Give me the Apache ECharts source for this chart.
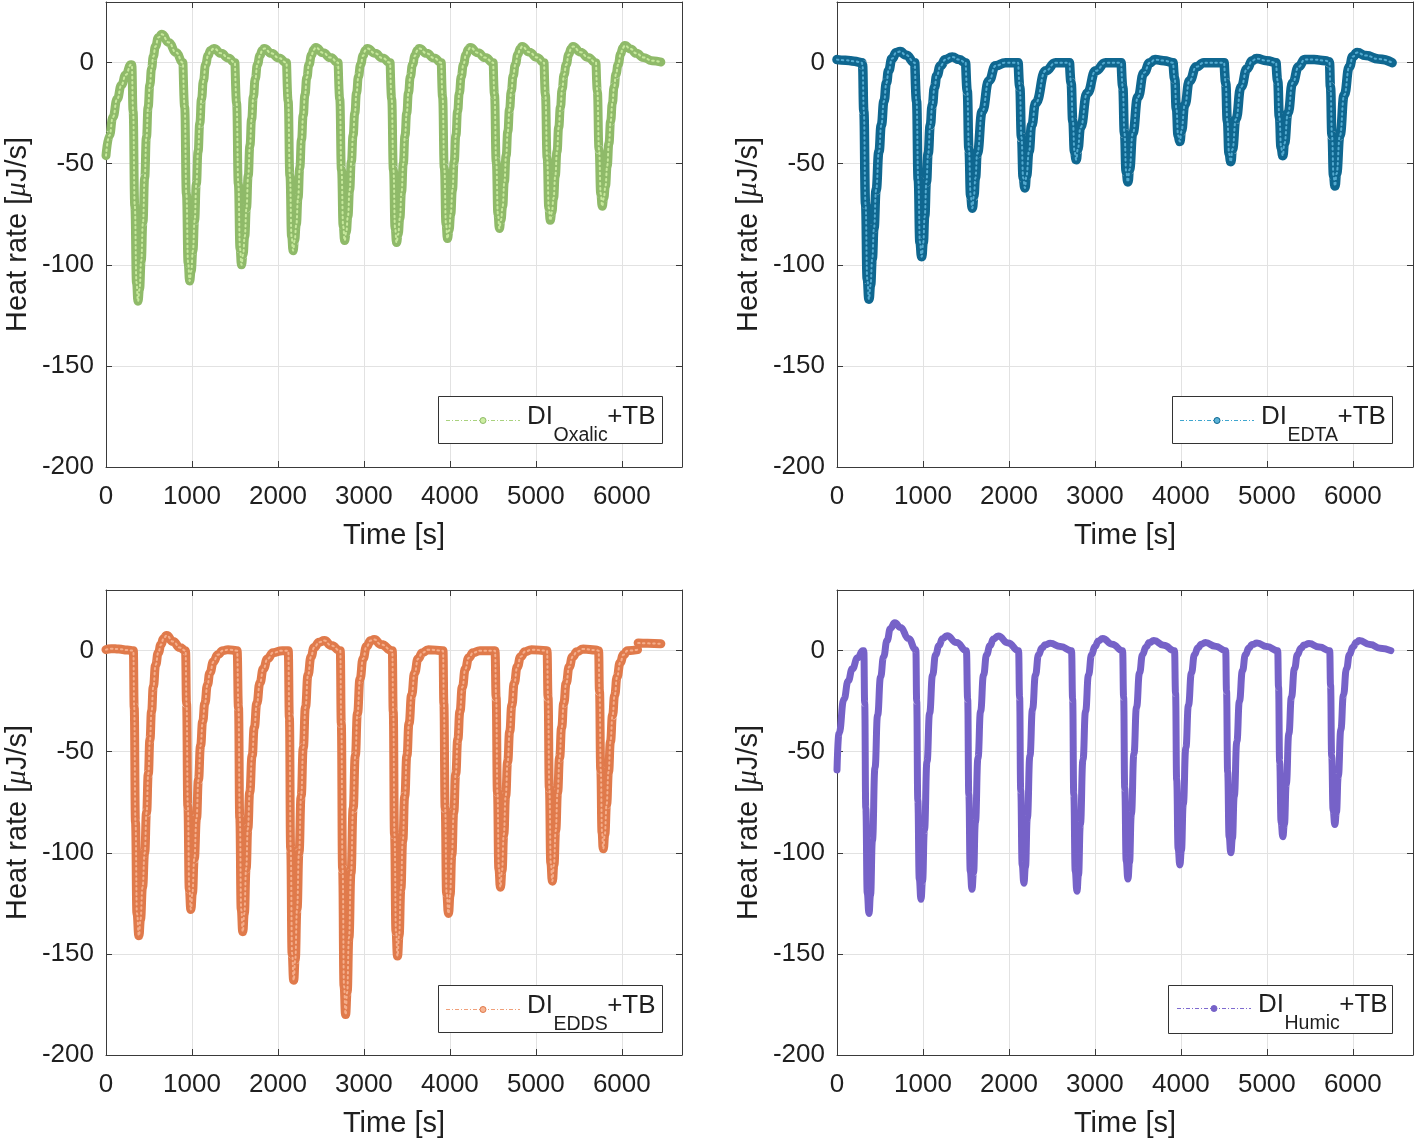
<!DOCTYPE html>
<html><head><meta charset="utf-8">
<script src="https://cdn.jsdelivr.net/npm/echarts@6/dist/echarts.min.js"></script>
<style>html,body{margin:0;padding:0;background:#fff}#c{width:1416px;height:1141px}</style>
</head><body><div id="c"></div>
<script>
const FONT = '"Liberation Sans", Arial, Helvetica, sans-serif';
const xRange = [0, 6700];
const yRange = [-200, 30];
const xTickLabels = [0, 1000, 2000, 3000, 4000, 5000, 6000];
const yTickLabels = [-200, -150, -100, -50, 0];
const seriesNames = ['DI_Oxalic+TB', 'DI_EDTA+TB', 'DI_EDDS+TB', 'DI_Humic+TB'];
const subscripts = ['Oxalic', 'EDTA', 'EDDS', 'Humic'];
const edgeColors = ['#8fba69', '#0f6790', '#e07a4b', '#7662c8'];
const faceColors = ['#cdeea2', '#5cb3d8', '#f7b492', '#8b78d6'];
const legendLineColors = ['#a9d27e', '#3fa6cf', '#f0a07a', '#7f6bd0'];

// [time s, heat rate uJ/s]
const oxalic = [
[0,-46],[40,-36],[80,-27],[130,-18],[180,-11],[230,-6],[290,-1],
[300,-1],[315,-24],[335,-71],[355,-109],[372,-118],[390,-112],[410,-98],[430,-79],[450,-57],[470,-37],[490,-22],[510,-11],[530,-3],[550,3],[575,8],[610,12.5],[650,14],[730,10],[815,5],[895,0],
[900,0],[915,-22],[935,-65],[955,-99],[973,-108],[991,-103],[1011,-93],[1031,-78],[1051,-60],[1071,-44],[1091,-30],[1111,-18],[1133,-9],[1158,-1],[1188,3.5],[1215,6],[1255,7],[1340,4.6],[1420,2.3],[1500,0],
[1504,0],[1519,-20],[1539,-60],[1559,-92],[1576,-100],[1594,-95],[1614,-86],[1634,-72],[1654,-56],[1674,-41],[1694,-28],[1714,-17],[1736,-8],[1761,-1],[1791,3.5],[1816,6],[1840,7],[1925,4.6],[2010,2.3],[2100,0],
[2104,0],[2119,-19],[2139,-56],[2159,-86],[2176,-93],[2194,-88],[2214,-80],[2234,-67],[2254,-52],[2274,-38],[2294,-26],[2314,-16],[2336,-7.4],[2361,-1],[2391,3.8],[2416,6.4],[2440,7.5],[2525,4.9],[2610,2.5],[2700,0],
[2704,0],[2719,-18],[2739,-53],[2759,-81],[2776,-88],[2794,-84],[2814,-76],[2834,-63],[2854,-49],[2874,-36],[2894,-25],[2914,-15],[2936,-7],[2961,-1],[2991,3.5],[3016,6],[3040,7],[3130,4.6],[3215,2.3],[3305,0],
[3308,0],[3323,-18],[3343,-53],[3363,-82],[3380,-89],[3398,-85],[3418,-77],[3438,-64],[3458,-50],[3478,-36],[3498,-25],[3518,-15],[3540,-7],[3565,-1],[3595,3.5],[3620,6],[3644,7],[3730,4.6],[3815,2.3],[3900,0],
[3903,0],[3915,-17],[3935,-52],[3955,-80],[3972,-87],[3990,-83],[4010,-75],[4030,-63],[4050,-49],[4070,-36],[4090,-24],[4110,-15],[4132,-7],[4157,-1],[4187,3.8],[4212,6.4],[4236,7.5],[4325,4.9],[4410,2.5],[4504,0],
[4507,0],[4519,-16],[4539,-49],[4559,-75],[4576,-82],[4594,-78],[4614,-71],[4634,-59],[4654,-46],[4674,-34],[4694,-23],[4714,-14],[4736,-6.6],[4761,-1],[4791,4],[4816,6.8],[4840,8],[4925,5.2],[5010,2.6],[5096,0],
[5099,0],[5111,-16],[5131,-47],[5151,-72],[5168,-78],[5186,-74],[5206,-67],[5226,-56],[5246,-44],[5266,-32],[5286,-22],[5306,-13],[5328,-6],[5353,-1],[5383,4],[5408,6.8],[5432,8],[5520,5.2],[5605,2.6],[5700,0],
[5703,0],[5715,-14],[5735,-43],[5755,-65],[5772,-71],[5790,-67],[5810,-61],[5830,-51],[5850,-40],[5870,-29],[5890,-20],[5910,-12],[5932,-5.7],[5957,-1],[5987,4.3],[6010,7.2],[6035,8.5],[6100,6.8],[6170,4.6],[6250,2.6],[6350,1],[6454,0.3]
];
const edta = [
[0,1.5],[100,1.2],[200,0.7],[290,0],
[297,-1],[312,-24],[332,-70],[352,-107],[372,-117],[390,-110],[410,-97],[430,-82],[455,-63],[488,-44],[515,-31],[547,-19],[575,-10],[600,-4],[640,2],[690,5],[735,5.5],[800,3.8],[905,0],
[910,0],[925,-19],[945,-58],[965,-89],[985,-96],[1003,-89],[1020,-76],[1040,-59],[1060,-45],[1085,-31],[1108,-21],[1135,-12],[1160,-6.5],[1205,-1.5],[1260,1.5],[1340,2.8],[1420,1.5],[1497,0],
[1500,0],[1515,-14],[1535,-43],[1555,-66],[1574,-72],[1592,-66],[1610,-57],[1631,-45],[1690,-24],[1767,-9],[1845,-1.5],[1962,0],[2108,0],
[2111,0],[2126,-12],[2146,-37],[2166,-57],[2186,-62],[2204,-56],[2233,-44],[2265,-31],[2310,-20],[2427,-4],[2543,0],[2705,0],
[2708,0],[2723,-10],[2743,-29],[2763,-44],[2783,-48],[2800,-43],[2833,-32],[2911,-15],[3008,-4],[3124,0],[3306,0],
[3309,0],[3324,-12],[3344,-35],[3364,-54],[3384,-59],[3402,-53],[3440,-35],[3500,-17],[3570,-5],[3640,0],[3700,1.5],[3800,1],[3910,0],
[3913,0],[3928,-8],[3948,-23],[3968,-36],[3988,-39],[4006,-34],[4045,-21],[4100,-9],[4180,-2],[4267,0],[4504,0],
[4506,0],[4521,-10],[4541,-29],[4561,-45],[4581,-49],[4599,-43],[4640,-28],[4700,-12],[4770,-3],[4830,1],[4880,2],[5000,1],[5108,0],
[5111,0],[5126,-9],[5146,-27],[5166,-42],[5186,-46],[5204,-40],[5245,-25],[5300,-10],[5370,-2],[5440,1.5],[5550,1.5],[5680,1],[5722,0.5],
[5728,0],[5740,-12],[5758,-36],[5776,-56],[5793,-61],[5810,-55],[5850,-36],[5900,-16],[5960,-2],[6000,3],[6050,5],[6150,3.5],[6300,1.8],[6457,0]
];
const edds = [
[0,0.5],[60,1],[150,0.8],[250,0.3],[318,0],
[328,-28],[343,-85],[360,-130],[383,-141],[401,-133],[425,-117],[450,-100],[472,-80],[492,-61],[511,-44],[530,-30],[550,-18],[578,-7],[608,-1],[640,3],[670,6],[705,7.5],[780,4.5],[860,1.5],[925,0],
[937,-26],[952,-77],[969,-118],[987,-128],[1005,-120],[1027,-103],[1053,-83],[1075,-64],[1100,-47],[1125,-35],[1150,-26],[1180,-17],[1208,-11],[1250,-5.5],[1300,-2],[1360,0],[1420,0.5],[1525,0],
[1541,-28],[1556,-83],[1573,-128],[1591,-139],[1609,-130],[1630,-108],[1650,-88],[1672,-70],[1700,-52],[1725,-38],[1755,-26],[1790,-16],[1830,-9],[1880,-4],[1943,-1],[2050,0],[2120,0],
[2133,-33],[2148,-98],[2165,-150],[2183,-163],[2201,-153],[2222,-128],[2245,-100],[2270,-72],[2295,-48],[2320,-28],[2350,-12],[2385,-3],[2420,1.5],[2480,4.2],[2540,5],[2620,2.5],[2725,0],
[2737,-36],[2752,-108],[2769,-166],[2787,-180],[2805,-169],[2826,-142],[2850,-110],[2875,-78],[2900,-52],[2925,-31],[2955,-14],[2990,-4],[3030,2],[3080,5],[3120,5.5],[3200,3],[3330,0],
[3341,-30],[3356,-91],[3373,-139],[3391,-151],[3409,-141],[3430,-118],[3452,-94],[3475,-72],[3500,-52],[3525,-36],[3555,-22],[3590,-11],[3630,-4],[3680,-1],[3750,0.5],[3920,0],
[3930,-26],[3945,-78],[3962,-120],[3984,-130],[4002,-121],[4023,-101],[4045,-80],[4068,-61],[4092,-44],[4117,-30],[4145,-18],[4180,-9],[4220,-3.5],[4270,-1],[4350,0],[4525,0],
[4538,-23],[4553,-70],[4570,-108],[4588,-117],[4606,-109],[4627,-91],[4649,-72],[4672,-55],[4696,-40],[4721,-27],[4749,-16],[4784,-8],[4824,-3],[4874,-0.5],[4950,0.5],[5130,0],
[5142,-23],[5157,-68],[5174,-105],[5192,-114],[5210,-106],[5231,-89],[5253,-70],[5276,-53],[5300,-38],[5325,-26],[5353,-16],[5388,-8],[5428,-3],[5478,-0.5],[5550,0.8],[5700,0.3],[5730,0],
[5740,-20],[5755,-59],[5770,-90],[5784,-98],[5802,-91],[5823,-76],[5845,-60],[5868,-45],[5892,-32],[5917,-22],[5945,-13],[5980,-6],[6020,-2],[6066,0],[6183,0.5],[6186,null],[6190,3.8],[6300,3.6],[6454,3.4]
];
const humic = [
[0,-59],[23,-41],[81,-24],[130,-15],[178,-9],[240,-3.5],[300,0],
[312,0],[322,-26],[335,-78],[352,-120],[372,-130],[390,-121],[412,-94],[442,-58],[472,-32],[507,-13],[542,-3],[582,5],[622,11],[672,13.8],[740,11.5],[830,6],[917,0.5],
[927,-25],[940,-74],[957,-113],[977,-123],[995,-114],[1017,-89],[1047,-55],[1077,-31],[1112,-12],[1147,-2],[1187,2.6],[1227,5.9],[1280,7.4],[1390,4],[1505,0],
[1520,-24],[1533,-71],[1550,-109],[1570,-118],[1588,-110],[1610,-85],[1640,-53],[1670,-30],[1705,-12],[1740,-2],[1780,2.5],[1820,5.8],[1875,7.2],[1990,3.8],[2112,0],
[2124,-23],[2137,-69],[2154,-106],[2174,-115],[2192,-107],[2214,-83],[2244,-52],[2274,-29],[2309,-12],[2344,-2],[2384,1.3],[2424,2.9],[2480,3.6],[2600,2],[2728,0],
[2741,-24],[2754,-71],[2771,-109],[2791,-119],[2809,-111],[2831,-86],[2861,-54],[2891,-30],[2926,-12],[2961,-2],[3001,2.1],[3041,4.8],[3090,6],[3200,3.2],[3322,0],
[3334,-23],[3347,-68],[3364,-104],[3384,-113],[3402,-105],[3424,-81],[3454,-51],[3484,-28],[3519,-11],[3554,-2],[3594,1.8],[3634,4],[3685,5],[3800,2.7],[3926,0],
[3938,-21],[3951,-64],[3968,-98],[3988,-106],[4006,-99],[4028,-76],[4058,-48],[4088,-27],[4123,-11],[4158,-2],[4198,1.4],[4238,3.2],[4285,4],[4400,2.2],[4521,0],
[4531,-20],[4544,-60],[4561,-92],[4581,-100],[4599,-93],[4621,-72],[4651,-45],[4681,-25],[4716,-10],[4751,-2],[4791,1.3],[4831,3],[4885,3.8],[5000,2],[5126,0],
[5136,-18],[5149,-55],[5166,-85],[5186,-92],[5204,-86],[5226,-66],[5256,-41],[5286,-23],[5321,-9],[5356,-2],[5396,1.2],[5436,2.8],[5490,3.5],[5610,1.8],[5731,0],
[5741,-17],[5754,-52],[5771,-79],[5791,-86],[5809,-80],[5831,-62],[5861,-39],[5891,-22],[5926,-9],[5961,-2],[6001,1.8],[6041,4],[6075,5],[6200,3],[6320,1.2],[6442,0]
];
const datasets = [oxalic, edta, edds, humic];
const lineWidths = [9, 9.5, 9, 7];
const showDots = [true, true, true, false];

const grids = [
  {left: 106, top: 2, width: 576, height: 465},
  {left: 837, top: 2, width: 576, height: 465},
  {left: 106, top: 590, width: 576, height: 465},
  {left: 837, top: 590, width: 576, height: 465}
];
// legend box layout: [left, top, right, bottom, iconLeft, iconRight, iconY]
const legendBoxes = [
  [438, 396, 662, 443, 446, 520, 420],
  [1172, 396, 1392, 443, 1180, 1254, 420],
  [438, 985, 662, 1032, 446, 520, 1009],
  [1168, 985, 1392, 1033, 1177, 1251, 1008]
];

const AX = '#3a3a3a';
const TXT = '#1f1f1f';
const mctx = document.createElement('canvas').getContext('2d');
function textW(t, size) { mctx.font = size + 'px ' + FONT; return mctx.measureText(t).width; }

const xAxes = [], yAxes = [], series = [], graphics = [];
for (let i = 0; i < 4; i++) {
  xAxes.push({
    type: 'value', gridIndex: i, min: xRange[0], max: xRange[1], interval: 1000, position: 'bottom',
    axisLine: {show: true, onZero: false, lineStyle: {color: AX, width: 1}},
    axisTick: {show: true, inside: true, length: 6, lineStyle: {color: AX}},
    axisLabel: {show: true, margin: 17, color: TXT, fontSize: 26, fontFamily: FONT, showMaxLabel: false,
      formatter: v => xTickLabels.includes(v) ? String(v) : ''},
    splitLine: {show: true, lineStyle: {color: '#e2e2e2', width: 1}},
    name: 'Time [s]', nameLocation: 'middle', nameGap: 54,
    nameTextStyle: {color: TXT, fontSize: 29, fontFamily: FONT}
  });
  xAxes.push({
    type: 'value', gridIndex: i, min: xRange[0], max: xRange[1], interval: 1000, position: 'top',
    axisLine: {show: true, onZero: false, lineStyle: {color: AX, width: 1}},
    axisTick: {show: true, inside: true, length: 6, lineStyle: {color: AX}},
    axisLabel: {show: false}, splitLine: {show: false}
  });
  yAxes.push({
    type: 'value', gridIndex: i, min: yRange[0], max: yRange[1], interval: 50, position: 'left',
    axisLine: {show: true, onZero: false, lineStyle: {color: AX, width: 1}},
    axisTick: {show: true, inside: true, length: 6, lineStyle: {color: AX}},
    axisLabel: {show: true, margin: 12, color: TXT, fontSize: 26, fontFamily: FONT, showMaxLabel: false,
      formatter: v => yTickLabels.includes(v) ? String(v) : ''},
    splitLine: {show: true, lineStyle: {color: '#e2e2e2', width: 1}},
    name: 'Heat rate [{mu|μ}J/s]', nameLocation: 'middle', nameGap: 74,
    nameTextStyle: {color: TXT, fontSize: 29, fontFamily: FONT,
      rich: {mu: {fontSize: 29, fontStyle: 'italic', fontFamily: '"Liberation Serif", serif', color: TXT}}}
  });
  yAxes.push({
    type: 'value', gridIndex: i, min: yRange[0], max: yRange[1], interval: 50, position: 'right',
    axisLine: {show: true, onZero: false, lineStyle: {color: AX, width: 1}},
    axisTick: {show: true, inside: true, length: 6, lineStyle: {color: AX}},
    axisLabel: {show: false}, splitLine: {show: false}
  });
  series.push({
    type: 'line', name: seriesNames[i], xAxisIndex: 2 * i, yAxisIndex: 2 * i,
    data: datasets[i], symbol: 'none', smooth: 0.5, smoothMonotone: 'x', connectNulls: false,
    lineStyle: {width: lineWidths[i], color: edgeColors[i], cap: 'round', join: 'round'},
    itemStyle: {color: edgeColors[i]}, z: 2, silent: true
  });
  if (showDots[i]) {
    series.push({
      type: 'line', name: seriesNames[i] + ' markers', xAxisIndex: 2 * i, yAxisIndex: 2 * i,
      data: datasets[i], symbol: 'none', smooth: 0.5, smoothMonotone: 'x', connectNulls: false,
      lineStyle: {width: 2, color: faceColors[i], type: [1.5, 3.5], cap: 'round', opacity: 0.9},
      z: 3, silent: true
    });
  }
  // legend box
  const b = legendBoxes[i];
  graphics.push({type: 'rect', z: 100, silent: true,
    shape: {x: b[0] + 0.5, y: b[1] + 0.5, width: b[2] - b[0], height: b[3] - b[1]},
    style: {fill: '#ffffff', stroke: '#333333', lineWidth: 1}});
  graphics.push({type: 'line', z: 101, silent: true,
    shape: {x1: b[4], y1: b[6] + 0.5, x2: b[5], y2: b[6] + 0.5},
    style: {stroke: legendLineColors[i], lineWidth: 1, lineDash: [4, 2, 1, 2]}});
  graphics.push({type: 'circle', z: 102, silent: true,
    shape: {cx: (b[4] + b[5]) / 2, cy: b[6] + 0.5, r: 3},
    style: {fill: i === 3 ? edgeColors[i] : faceColors[i], stroke: edgeColors[i], lineWidth: 1}});
  const tx = b[5] + 7;
  const wDI = textW('DI', 26);
  const wSub = textW(subscripts[i], 19.5);
  graphics.push({type: 'text', z: 102, silent: true,
    style: {x: tx, y: b[6] - 3, text: 'DI', fill: TXT, font: '26px ' + FONT, align: 'left', verticalAlign: 'middle'}});
  graphics.push({type: 'text', z: 102, silent: true,
    style: {x: tx + wDI + 0.5, y: b[6] + 16, text: subscripts[i], fill: TXT, font: '19.5px ' + FONT, align: 'left', verticalAlign: 'middle'}});
  graphics.push({type: 'text', z: 102, silent: true,
    style: {x: tx + wDI + wSub, y: b[6] - 3, text: '+TB', fill: TXT, font: '26px ' + FONT, align: 'left', verticalAlign: 'middle'}});
}

const chart = echarts.init(document.getElementById('c'), null, {renderer: 'canvas'});
chart.setOption({
  animation: false,
  backgroundColor: '#ffffff',
  grid: grids,
  xAxis: xAxes,
  yAxis: yAxes,
  series: series,
  graphic: {elements: graphics}
});
</script>
</body></html>
